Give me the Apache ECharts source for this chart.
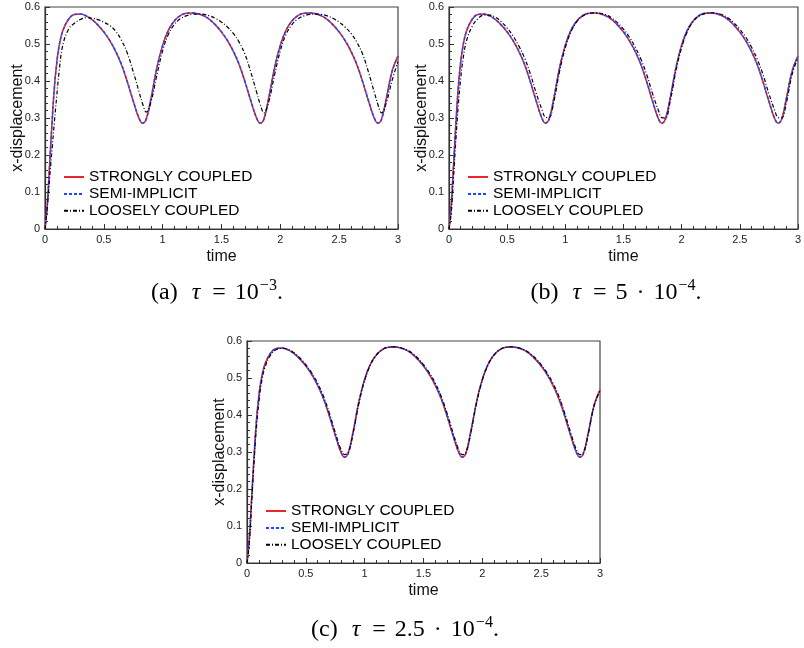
<!DOCTYPE html>
<html>
<head>
<meta charset="utf-8">
<title>x-displacement</title>
<script src="https://cdn.jsdelivr.net/npm/echarts@6.0.0/dist/echarts.min.js"></script>
<style>
  html, body { margin: 0; padding: 0; background: #fff; }
  #chart { width: 804px; height: 648px; }
</style>
</head>
<body>
<div id="chart"></div>
<script>
// data (time in s, x-displacement)
var time = [0, 0.02, 0.04, 0.06, 0.08, 0.1, 0.12, 0.15,
  0.2, 0.25, 0.3, 0.35, 0.4, 0.45, 0.5, 0.55, 0.6, 0.65, 0.7, 0.75, 0.8,
  0.83, 0.86,
  0.9, 0.95, 1, 1.05, 1.1, 1.15, 1.2, 1.25, 1.3, 1.35, 1.4, 1.45, 1.5, 1.55, 1.6, 1.65, 1.7, 1.75, 1.8,
  1.83, 1.86,
  1.9, 1.95, 2, 2.05, 2.1, 2.15, 2.2, 2.25, 2.3, 2.35, 2.4, 2.45, 2.5, 2.55, 2.6, 2.65, 2.7, 2.75, 2.8,
  2.83, 2.86,
  2.9, 2.95, 3];

var stronglyCoupled = [0, 0.07, 0.18, 0.29, 0.385, 0.45, 0.495, 0.535,
  0.567, 0.580, 0.581, 0.576, 0.566, 0.551, 0.532, 0.509, 0.480, 0.444, 0.397, 0.345, 0.298,
  0.286, 0.297,
  0.352, 0.435, 0.497, 0.538, 0.563, 0.577, 0.583, 0.584, 0.582, 0.576, 0.566, 0.551, 0.532, 0.509, 0.480, 0.444, 0.397, 0.345, 0.298,
  0.286, 0.297,
  0.352, 0.435, 0.497, 0.538, 0.563, 0.577, 0.583, 0.584, 0.582, 0.576, 0.566, 0.551, 0.532, 0.509, 0.480, 0.444, 0.397, 0.345, 0.298,
  0.286, 0.297,
  0.352, 0.427, 0.468];

var semiImplicit = [0, 0.066, 0.176, 0.287, 0.383, 0.449, 0.494, 0.534,
  0.567, 0.580, 0.581, 0.576, 0.566, 0.551, 0.533, 0.510, 0.481, 0.445, 0.398, 0.346, 0.299,
  0.286, 0.296,
  0.351, 0.434, 0.496, 0.538, 0.563, 0.577, 0.583, 0.584, 0.582, 0.576, 0.566, 0.551, 0.533, 0.510, 0.481, 0.445, 0.398, 0.346, 0.299,
  0.286, 0.296,
  0.351, 0.434, 0.496, 0.538, 0.563, 0.577, 0.583, 0.584, 0.582, 0.576, 0.566, 0.551, 0.533, 0.510, 0.481, 0.445, 0.398, 0.346, 0.299,
  0.286, 0.296,
  0.351, 0.426, 0.467];

// loosely coupled, one per time step size
var looselyA = [0, 0.06, 0.14, 0.215, 0.29, 0.36, 0.425, 0.495,
  0.540, 0.556, 0.566, 0.571, 0.570, 0.566, 0.559, 0.550, 0.535, 0.510, 0.475, 0.425, 0.370,
  0.338, 0.316,
  0.343, 0.415, 0.482, 0.527, 0.553, 0.568, 0.576, 0.580, 0.581, 0.580, 0.576, 0.569, 0.559, 0.546, 0.529, 0.505, 0.472, 0.423, 0.368,
  0.336, 0.314,
  0.342, 0.415, 0.482, 0.527, 0.553, 0.568, 0.576, 0.580, 0.581, 0.580, 0.576, 0.569, 0.559, 0.546, 0.529, 0.505, 0.472, 0.423, 0.368,
  0.336, 0.314,
  0.340, 0.402, 0.452];

var looselyB = [0, 0.045, 0.145, 0.245, 0.335, 0.405, 0.458, 0.508,
  0.548, 0.569, 0.578, 0.578, 0.572, 0.560, 0.543, 0.522, 0.495, 0.462, 0.419, 0.367, 0.322,
  0.302, 0.301,
  0.342, 0.425, 0.490, 0.534, 0.561, 0.576, 0.582, 0.584, 0.583, 0.579, 0.570, 0.557, 0.540, 0.519, 0.492, 0.459, 0.417, 0.366, 0.321,
  0.301, 0.300,
  0.342, 0.425, 0.490, 0.534, 0.561, 0.576, 0.582, 0.584, 0.583, 0.579, 0.570, 0.557, 0.540, 0.519, 0.492, 0.459, 0.417, 0.366, 0.321,
  0.301, 0.300,
  0.340, 0.418, 0.462];

var looselyC = [0, 0.055, 0.165, 0.272, 0.365, 0.432, 0.482, 0.526,
  0.562, 0.577, 0.580, 0.577, 0.568, 0.554, 0.536, 0.514, 0.486, 0.451, 0.405, 0.353, 0.306,
  0.293, 0.298,
  0.348, 0.430, 0.494, 0.536, 0.562, 0.577, 0.583, 0.584, 0.582, 0.577, 0.568, 0.554, 0.536, 0.514, 0.486, 0.451, 0.405, 0.353, 0.306,
  0.293, 0.298,
  0.348, 0.430, 0.494, 0.536, 0.562, 0.577, 0.583, 0.584, 0.582, 0.577, 0.568, 0.554, 0.536, 0.514, 0.486, 0.451, 0.405, 0.353, 0.306,
  0.293, 0.298,
  0.348, 0.425, 0.466];

var names = ['STRONGLY COUPLED', 'SEMI-IMPLICIT', 'LOOSELY COUPLED'];
var captions = [
  '(a) {it|τ} {op|=} 10{sup|−3}.',
  '(b) {it|τ} {op|=} 5 {op|·} 10{sup|−4}.',
  '(c) {it|τ} {op|=} 2.5 {op|·} 10{sup|−4}.'
];

var sans = 'Liberation Sans, Arial, Helvetica, sans-serif';
var serif = 'Liberation Serif, Times New Roman, serif';

var panels = [
  { left: 45, top: 7, loosely: looselyA, cx: 217, cy: 293 },
  { left: 449, top: 7, loosely: looselyB, cx: 616, cy: 293 },
  { left: 247, top: 341, loosely: looselyC, cx: 405, cy: 630 }
];

function pairs(vals) {
  return time.map(function (t, k) { return [t, vals[k]]; });
}

var myChart = echarts.init(document.getElementById('chart'));

var grids = [], xAxes = [], yAxes = [], legends = [], series = [], graphics = [];

panels.forEach(function (p, i) {
  grids.push({
    left: p.left, top: p.top, width: 353, height: 222,
    show: true, borderColor: '#444', borderWidth: 1.2, backgroundColor: 'transparent'
  });
  var common = {
    type: 'value', gridIndex: i,
    nameLocation: 'middle',
    nameMoveOverlap: false,
    nameTextStyle: { fontSize: 16, color: '#111', fontFamily: sans },
    axisLine: { lineStyle: { color: '#333', width: 1.2 } },
    axisTick: { inside: true, length: 5, lineStyle: { color: '#333' } },
    minorTick: { show: true, splitNumber: 5, length: 3, lineStyle: { color: '#333' } },
    splitLine: { show: false },
    axisLabel: { fontSize: 11, color: '#222', margin: 5, fontFamily: sans }
  };
  xAxes.push(Object.assign({}, common, { min: 0, max: 3, interval: 0.5, name: 'time', nameGap: 20 }));
  yAxes.push(Object.assign({}, common, { min: 0, max: 0.6, interval: 0.1, name: 'x-displacement', nameGap: 19 }));

  legends.push({
    data: names, orient: 'vertical',
    left: p.left + 18, top: p.top + 162, padding: 0,
    itemWidth: 20, itemHeight: 12, itemGap: 0.9,
    itemStyle: { opacity: 0 },
    textStyle: { fontSize: 15.5, color: '#000', fontFamily: sans }
  });

  var lines = [
    { name: names[0], data: stronglyCoupled, color: '#e8262b', type: 'solid', width: 1.5 },
    { name: names[1], data: semiImplicit, color: '#1f45ff', type: [3, 2], width: 1.5 },
    { name: names[2], data: p.loosely, color: '#000', type: [4, 2, 1, 2], width: 1.2 }
  ];
  lines.forEach(function (l) {
    series.push({
      name: l.name, type: 'line', xAxisIndex: i, yAxisIndex: i,
      data: pairs(l.data), symbol: 'none', smooth: 0.4,
      color: l.color,
      lineStyle: { color: l.color, width: l.width, type: l.type },
      animation: false
    });
  });

  graphics.push({
    type: 'text', x: p.cx, y: p.cy,
    style: {
      text: captions[i], align: 'center', verticalAlign: 'middle',
      fontSize: 24, fontFamily: serif, fill: '#000', lineHeight: 30,
      rich: {
        it: { fontSize: 24, fontStyle: 'italic', fontFamily: serif, padding: [0, 3, 0, 8] },
        op: { fontSize: 24, fontFamily: serif, padding: [0, 3, 0, 3] },
        sup: { fontSize: 16, verticalAlign: 'top', fontFamily: serif, padding: [0, 0, 0, 1] }
      }
    }
  });
});

var option = {
  backgroundColor: '#fff',
  animation: false,
  grid: grids,
  xAxis: xAxes,
  yAxis: yAxes,
  legend: legends,
  series: series,
  graphic: graphics
};
myChart.setOption(option);
</script>
</body>
</html>
